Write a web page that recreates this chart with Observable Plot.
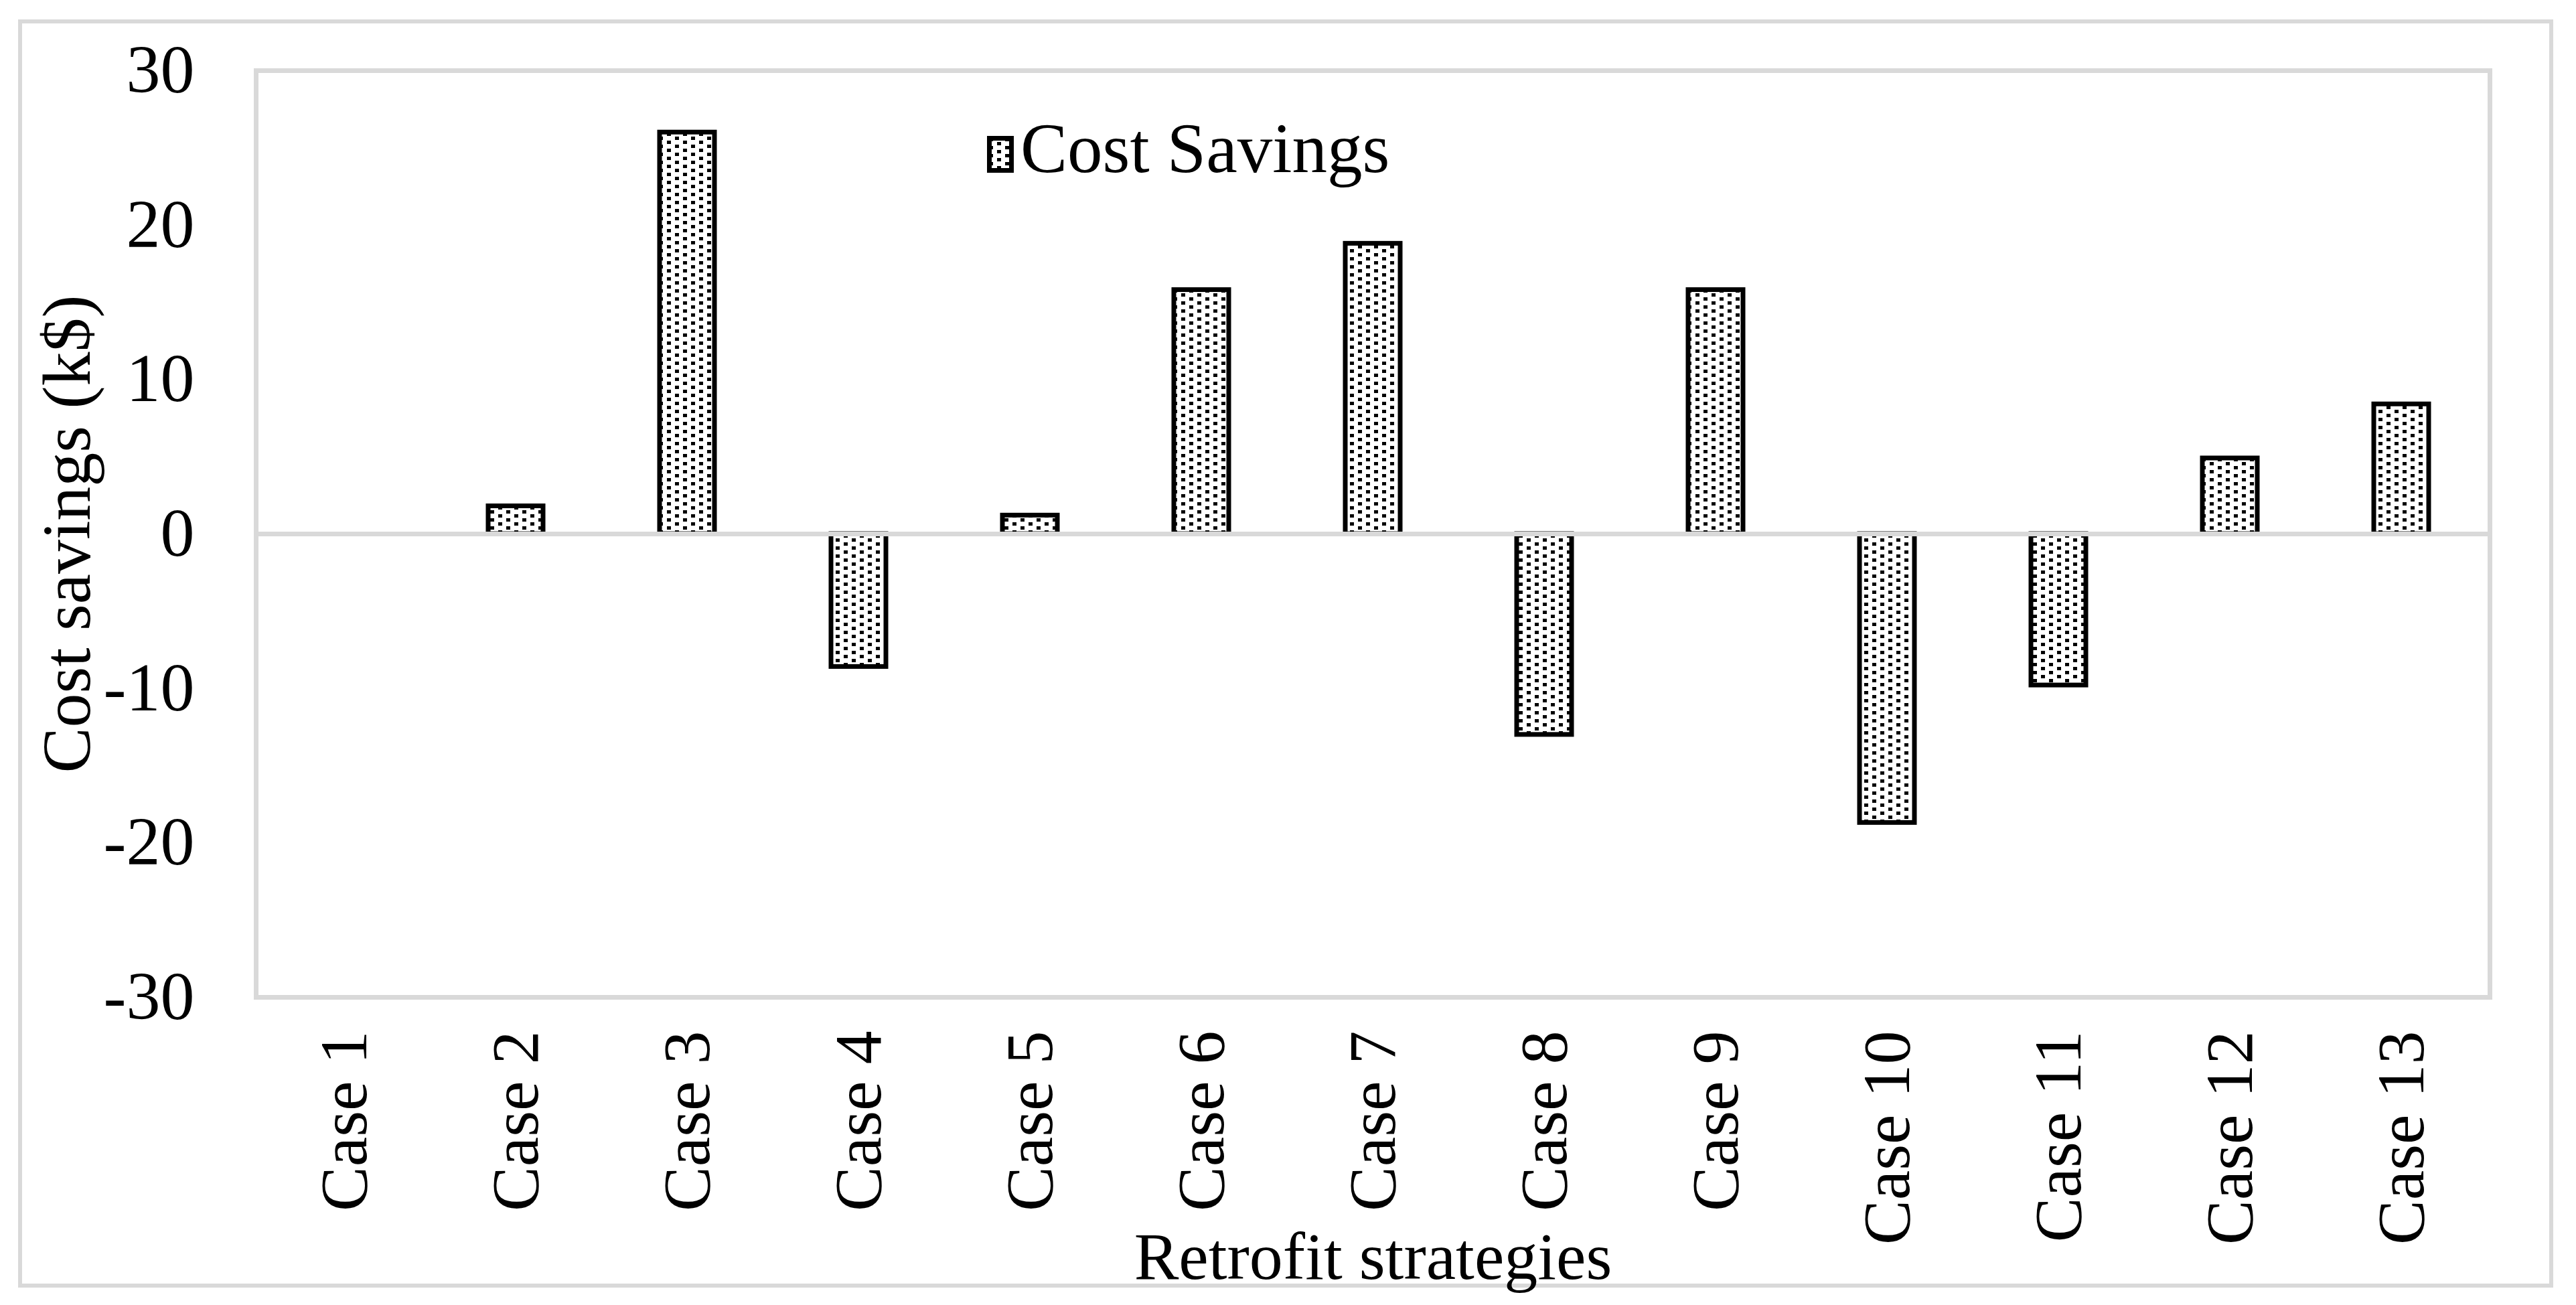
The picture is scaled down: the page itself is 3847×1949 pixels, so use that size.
<!DOCTYPE html>
<html>
<head>
<meta charset="utf-8">
<script src="https://cdn.jsdelivr.net/npm/d3@7"></script>
<script src="https://cdn.jsdelivr.net/npm/@observablehq/plot@0.6"></script>
<style>
  html, body { margin: 0; padding: 0; background: #fff; }
  body { width: 3847px; height: 1949px; position: relative; overflow: hidden; font-family: "Liberation Serif", "Times New Roman", serif; }
  #border { position: absolute; left: 27px; top: 29px; width: 3774px; height: 1882px; border: 6px solid #d9d9d9; }
  #chart { position: absolute; left: 0; top: 0; }
  #legend-swatch { position: absolute; left: 1474px; top: 203px; width: 40px; height: 55px; }
  #legend-text { position: absolute; left: 1524px; top: 169px; font-size: 105px; line-height: 105px; color: #000; white-space: nowrap; }
</style>
</head>
<body>
<div id="border"></div>
<div id="chart"></div>
<svg id="legend-swatch" width="40" height="55" viewBox="0 0 40 55">
  <defs>
    <pattern id="dotsLegend" patternUnits="userSpaceOnUse" width="24" height="12">
      <rect width="24" height="12" fill="#fff"/>
      <rect x="3" y="3" width="6" height="5" fill="#000"/>
      <rect x="15" y="9" width="6" height="5" fill="#000"/>
      <rect x="15" y="-3" width="6" height="5" fill="#000"/>
    </pattern>
  </defs>
  <rect x="3.5" y="3.5" width="33" height="48" fill="url(#dotsLegend)" stroke="#000" stroke-width="7"/>
</svg>
<div id="legend-text">Cost Savings</div>
<script>
const cases = ["Case 1", "Case 2", "Case 3", "Case 4", "Case 5", "Case 6", "Case 7",
               "Case 8", "Case 9", "Case 10", "Case 11", "Case 12", "Case 13"];
const costSavings = [0, 1.8, 26.0, -8.6, 1.2, 15.8, 18.8, -13.0, 15.8, -18.7, -9.8, 4.9, 8.4];
const yTicks = [-30, -20, -10, 0, 10, 20, 30];

const data = cases.map((c, i) => ({strategy: c, value: costSavings[i]}));

const plot = Plot.plot({
  width: 3847,
  height: 1949,
  marginLeft: 382,
  marginRight: 129,
  marginTop: 105,
  marginBottom: 460,
  style: {fontFamily: "Liberation Serif, Times New Roman, serif", background: "transparent", color: "#000", overflow: "visible"},
  x: {domain: cases, paddingInner: 0.68, paddingOuter: 0.34, label: null},
  y: {domain: [-30, 30], label: null},
  marks: [
    Plot.frame({stroke: "#d9d9d9", strokeWidth: 7}),
    Plot.barY(data, {filter: d => d.value !== 0, x: "strategy", y: "value", fill: "url(#dots)", stroke: "#000", strokeWidth: 7}),
    Plot.ruleY([0], {stroke: "#d9d9d9", strokeWidth: 7}),
    Plot.axisY({ticks: yTicks, tickSize: 0, tickPadding: 92, fontSize: 102, tickFormat: d => String(d),
                label: "Cost savings (k$)", labelAnchor: "center", labelArrow: "none", labelOffset: 321}),
    Plot.axisX({tickSize: 0, tickPadding: 50, tickRotate: -90, fontSize: 100,
                label: "Retrofit strategies", labelAnchor: "center", labelArrow: "none", labelOffset: 420})
  ]
});

const ns = "http://www.w3.org/2000/svg";
const defs = document.createElementNS(ns, "defs");
defs.innerHTML = '<pattern id="dots" patternUnits="userSpaceOnUse" width="24" height="12">' +
  '<rect width="24" height="12" fill="#fff"/>' +
  '<rect x="0" y="0" width="6" height="5" fill="#000"/>' +
  '<rect x="12" y="6" width="6" height="5" fill="#000"/>' +
  '</pattern>';
plot.insertBefore(defs, plot.firstChild);
document.getElementById("chart").appendChild(plot);
</script>
</body>
</html>
